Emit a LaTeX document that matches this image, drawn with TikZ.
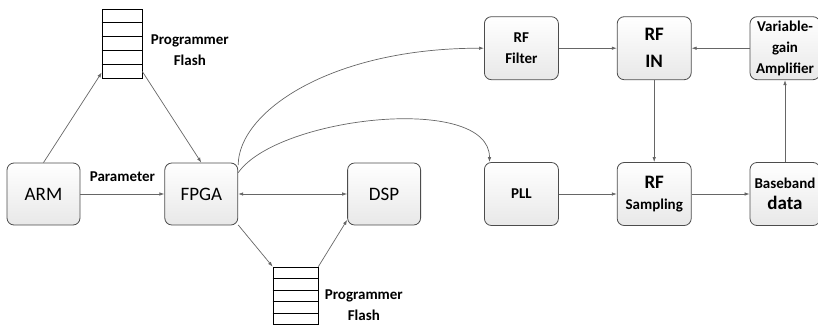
\documentclass[tikz,border=0pt]{standalone}
\usepackage{fontspec}
\setmainfont{Carlito}
\usetikzlibrary{arrows.meta,positioning,calc}

\begin{document}
\begin{tikzpicture}[x=1pt,y=1pt,>={Latex[length=5pt,width=3.5pt]},
  every node/.style={font=\fontsize{15}{21}\selectfont\bfseries},
  box/.style={draw=black!70,line width=0.8pt,rounded corners=7pt,
    top color=white,bottom color=black!9,align=center,inner sep=1pt},
  mainbox/.style={box,minimum width=73pt,minimum height=62pt,
    font=\fontsize{19}{24}\selectfont},
  rfbox/.style={box,minimum width=74pt,minimum height=63pt},
  flash/.style={draw,line width=0.6pt,inner sep=0pt},
  link/.style={->,draw=black!60,line width=0.7pt}]
\useasboundingbox (0,0) rectangle (818,-324);
% left part
\node[mainbox] (arm) at (43.5,-194) {ARM};
\node[mainbox,right=84pt of arm] (fpga) {FPGA};
\node[mainbox,right=109pt of fpga] (dsp) {DSP};
\node[flash,minimum width=40pt,minimum height=69pt] (flashT) at (122,-43.5) {};
\node[flash,minimum width=45pt,minimum height=57.5pt] (flashB) at (295.5,-295.75) {};
\foreach \k in {1,...,4} {
  \draw[line width=0.6pt] ($(flashT.north west)!\k/5!(flashT.south west)$)
    -- ($(flashT.north east)!\k/5!(flashT.south east)$);
  \draw[line width=0.6pt] ($(flashB.north west)!\k/5!(flashB.south west)$)
    -- ($(flashB.north east)!\k/5!(flashB.south east)$);
}
\node[right=5pt of flashT,yshift=-7pt,align=center] (flashTlab) {Programmer\\Flash};
\node[right=3pt of flashB,yshift=-9pt,align=center] (flashBlab) {Programmer\\Flash};
% right part
\node[rfbox,right=63pt of dsp] (pll) {PLL};
\node[rfbox,right=58pt of pll] (rfs) {{\fontsize{19}{24}\selectfont RF}\\Sampling};
\node[rfbox,right=58pt of rfs,minimum width=70pt] (bb) {Baseband\\{\fontsize{19}{24}\selectfont data}};
\node[rfbox,above=82pt of pll] (rff) {RF\\Filter};
\node[rfbox,above=82pt of rfs,font=\fontsize{19}{27}\selectfont\bfseries] (rfin) {RF\\IN};
\node[rfbox,above=82pt of bb,minimum width=70pt] (vga) {Variable-\\gain\\Amplifier};
% connectors
\draw[link] (arm.north) -- (flashT.235);
\draw[link] (flashT.-54) -- (fpga.north);
\draw[link] (arm) -- node[above=9pt] {Parameter} (fpga);
\draw[link,<->] (fpga) -- (dsp);
\draw[link] (fpga.-40) -- (flashB.north west);
\draw[link] (flashB.north east) -- (dsp.215);
\draw[link] (fpga.38) to[out=90,in=180,out looseness=0.5,in looseness=1.45] (rff.west);
\draw[link] (fpga.30) to[out=55,in=90,looseness=0.7] (pll.135);
\draw[link] (rff) -- (rfin);
\draw[link] (vga) -- (rfin);
\draw[link] (rfin) -- (rfs);
\draw[link] (bb) -- (vga);
\draw[link] (pll) -- (rfs);
\draw[link] (rfs) -- (bb);
\end{tikzpicture}
\end{document}
